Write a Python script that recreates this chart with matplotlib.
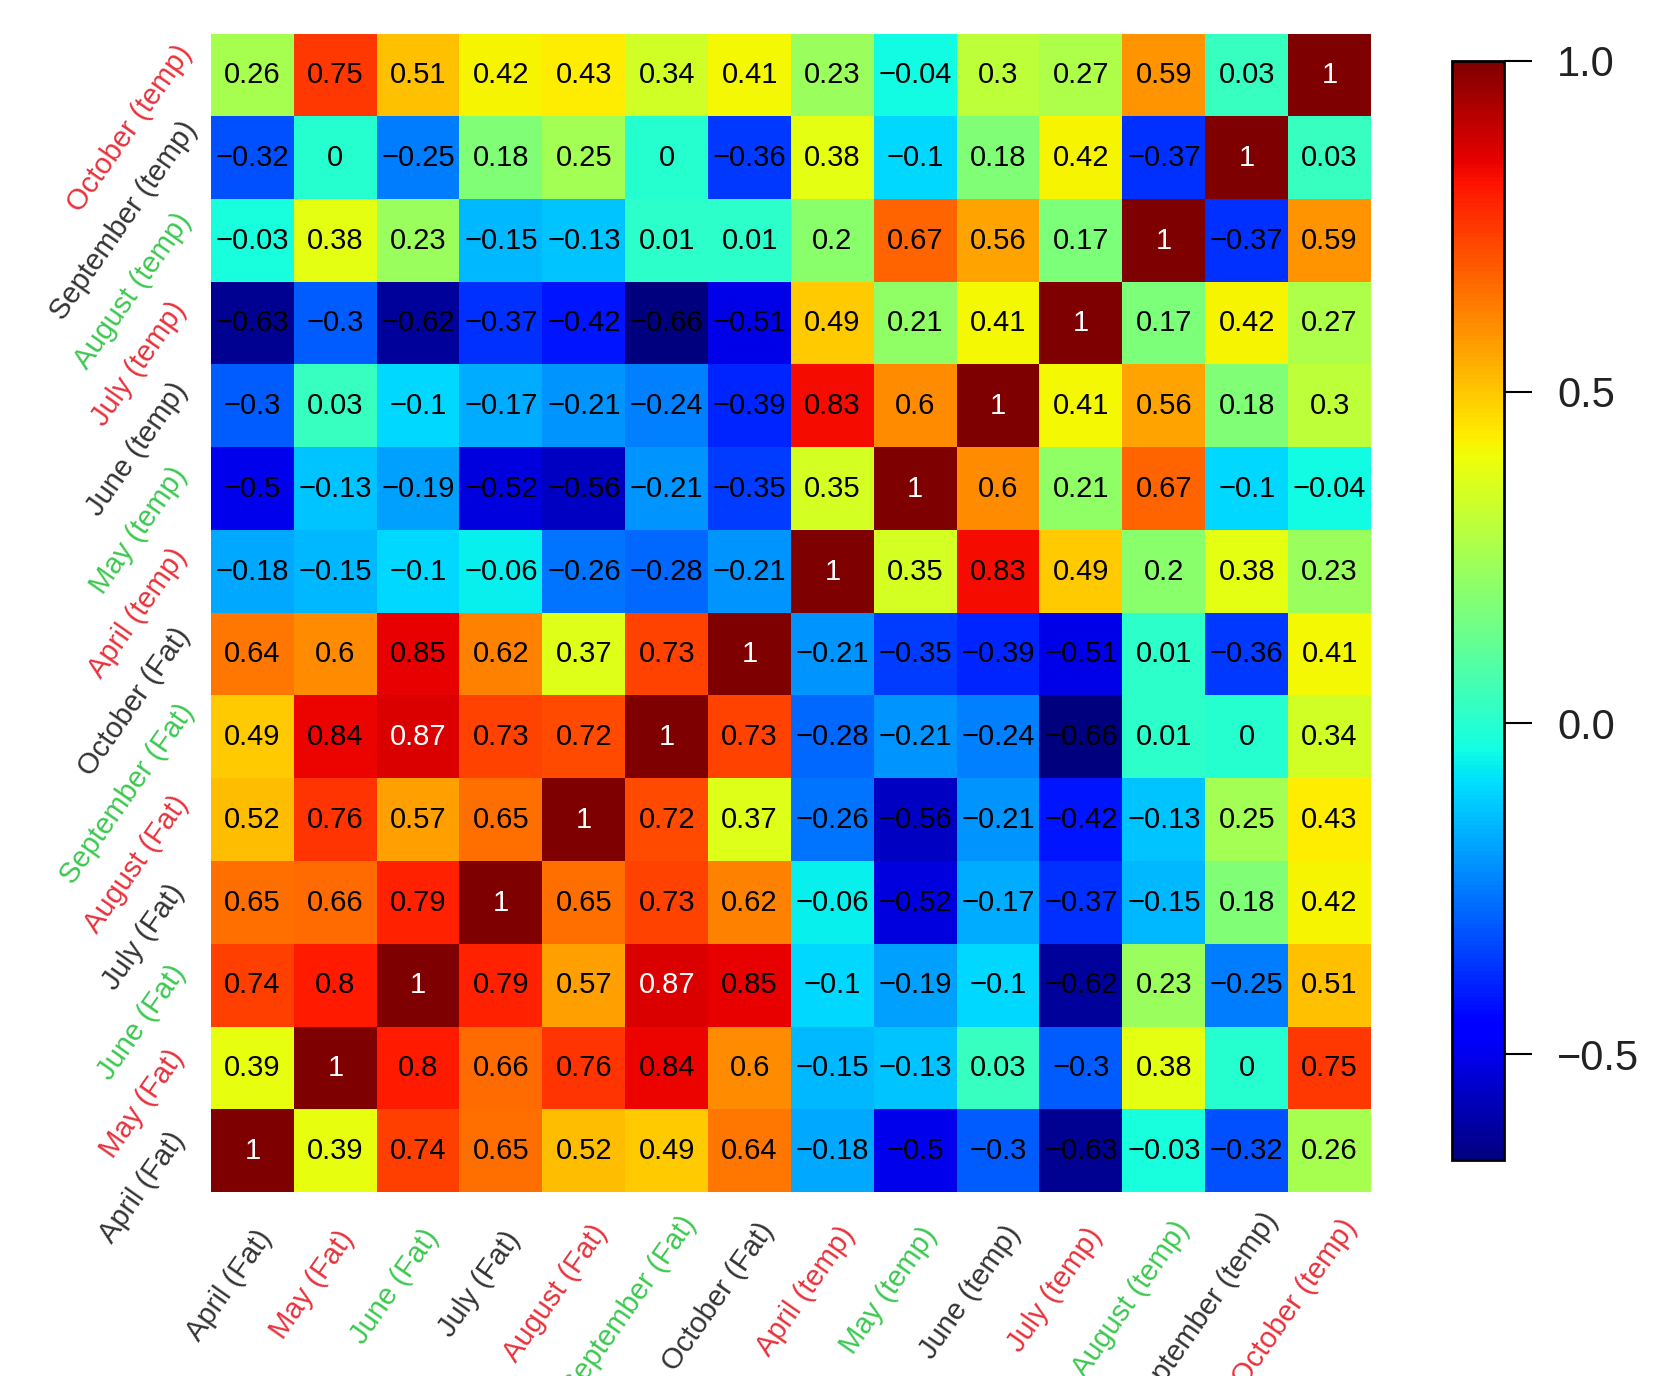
import numpy as np
import matplotlib
matplotlib.use("Agg")
import matplotlib.pyplot as plt
import matplotlib.transforms as mtransforms

plt.rcParams["font.family"] = ["Liberation Sans", "DejaVu Sans"]

# variable order: bottom row / left column first
labels = ["April (Fat)", "May (Fat)", "June (Fat)", "July (Fat)", "August (Fat)",
          "September (Fat)", "October (Fat)", "April (temp)", "May (temp)",
          "June (temp)", "July (temp)", "August (temp)", "September (temp)",
          "October (temp)"]
label_colors = ["#333333", "#e8323c", "#3cc850"] * 5

april_fat = [1, 0.39, 0.74, 0.65, 0.52, 0.49, 0.64, -0.18, -0.5, -0.3, -0.63, -0.03, -0.32, 0.26]
may_fat   = [0.39, 1, 0.8, 0.66, 0.76, 0.84, 0.6, -0.15, -0.13, 0.03, -0.3, 0.38, 0, 0.75]
june_fat  = [0.74, 0.8, 1, 0.79, 0.57, 0.87, 0.85, -0.1, -0.19, -0.1, -0.62, 0.23, -0.25, 0.51]
july_fat  = [0.65, 0.66, 0.79, 1, 0.65, 0.73, 0.62, -0.06, -0.52, -0.17, -0.37, -0.15, 0.18, 0.42]
aug_fat   = [0.52, 0.76, 0.57, 0.65, 1, 0.72, 0.37, -0.26, -0.56, -0.21, -0.42, -0.13, 0.25, 0.43]
sep_fat   = [0.49, 0.84, 0.87, 0.73, 0.72, 1, 0.73, -0.28, -0.21, -0.24, -0.66, 0.01, 0, 0.34]
oct_fat   = [0.64, 0.6, 0.85, 0.62, 0.37, 0.73, 1, -0.21, -0.35, -0.39, -0.51, 0.01, -0.36, 0.41]
apr_temp  = [-0.18, -0.15, -0.1, -0.06, -0.26, -0.28, -0.21, 1, 0.35, 0.83, 0.49, 0.2, 0.38, 0.23]
may_temp  = [-0.5, -0.13, -0.19, -0.52, -0.56, -0.21, -0.35, 0.35, 1, 0.6, 0.21, 0.67, -0.1, -0.04]
jun_temp  = [-0.3, 0.03, -0.1, -0.17, -0.21, -0.24, -0.39, 0.83, 0.6, 1, 0.41, 0.56, 0.18, 0.3]
jul_temp  = [-0.63, -0.3, -0.62, -0.37, -0.42, -0.66, -0.51, 0.49, 0.21, 0.41, 1, 0.17, 0.42, 0.27]
aug_temp  = [-0.03, 0.38, 0.23, -0.15, -0.13, 0.01, 0.01, 0.2, 0.67, 0.56, 0.17, 1, -0.37, 0.59]
sep_temp  = [-0.32, 0, -0.25, 0.18, 0.25, 0, -0.36, 0.38, -0.1, 0.18, 0.42, -0.37, 1, 0.03]
oct_temp  = [0.26, 0.75, 0.51, 0.42, 0.43, 0.34, 0.41, 0.23, -0.04, 0.3, 0.27, 0.59, 0.03, 1]

corr = np.array([april_fat, may_fat, june_fat, july_fat, aug_fat, sep_fat, oct_fat,
                 apr_temp, may_temp, jun_temp, jul_temp, aug_temp, sep_temp, oct_temp])
n = len(labels)

fig = plt.figure(figsize=(16.54, 13.76), dpi=100)
ax = fig.add_axes([0.1276, 0.1337, 0.7013, 0.8416])
cax = fig.add_axes([0.878, 0.157, 0.0314, 0.7987])

im = ax.imshow(corr, cmap="jet", vmin=corr.min(), vmax=1.0, origin="lower",
               aspect="auto", interpolation="nearest")

def fmt(v):
    s = f"{v:.2f}".rstrip("0").rstrip(".")
    if s in ("-0", "-0."):
        s = "0"
    return s.replace("-", "\u2212")

for i in range(n):
    for j in range(n):
        v = corr[i, j]
        ax.text(j, i, fmt(v), ha="center", va="center", fontsize=21,
                color="white" if v > 0.86 else "black")

ax.set_xticks([])
ax.set_yticks([])
for s in ax.spines.values():
    s.set_visible(False)

# rotated labels; the original's anchor drifts a bit with label length
ang = 55
d = np.array([np.cos(np.radians(ang)), np.sin(np.radians(ang))])
renderer = fig.canvas.get_renderer()
xtr = mtransforms.blended_transform_factory(ax.transData, ax.transAxes)
ytr = mtransforms.blended_transform_factory(ax.transAxes, ax.transData)
for i, (lab, c) in enumerate(zip(labels, label_colors)):
    tmp = fig.text(0, 0, lab, fontsize=21)
    w = tmp.get_window_extent(renderer).width
    tmp.remove()
    shift = 0.2 * w * d
    ox, oy = np.array([-1, -62]) + shift
    ax.text(i, 0, lab, fontsize=21, color=c, rotation=ang, ha="right", va="center",
            rotation_mode="anchor",
            transform=xtr + mtransforms.ScaledTranslation(ox / 100, oy / 100, fig.dpi_scale_trans))
    ox, oy = np.array([-47, -5]) + shift
    ax.text(0, i, lab, fontsize=21, color=c, rotation=ang, ha="right", va="center",
            rotation_mode="anchor",
            transform=ytr + mtransforms.ScaledTranslation(ox / 100, oy / 100, fig.dpi_scale_trans))

cb = fig.colorbar(im, cax=cax, ticks=[-0.5, 0.0, 0.5, 1.0])
cb.ax.set_yticklabels(["\u22120.5", "0.0", "0.5", "1.0"])
cb.ax.tick_params(length=20, width=1.5, pad=18, labelsize=30, labelcolor="#222222")
cb.outline.set_linewidth(2)

fig.savefig("out.png", dpi=100)
